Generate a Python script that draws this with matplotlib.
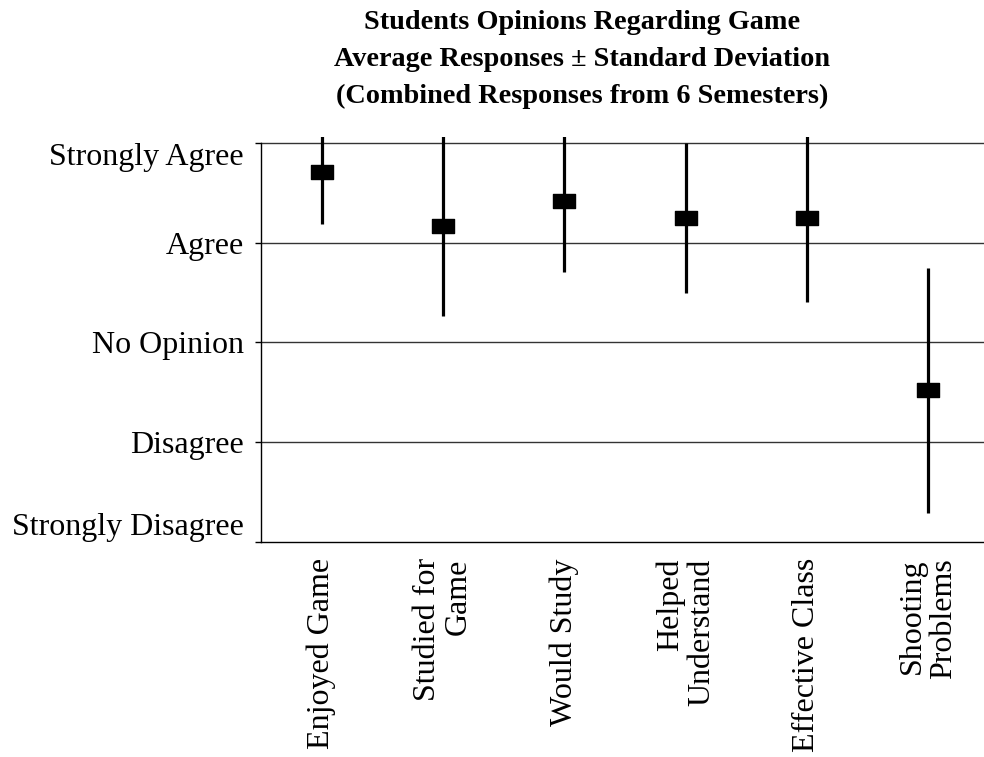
import matplotlib.pyplot as plt
from matplotlib.path import Path

questions = ["Enjoyed Game", "Studied for\nGame", "Would Study",
             "Helped\nUnderstand", "Effective Class", "Shooting\nProblems"]
means = [4.71, 4.17, 4.42, 4.25, 4.25, 2.52]
stdevs = [0.52, 0.90, 0.71, 0.75, 0.84, 1.23]
levels = [1, 2, 3, 4, 5]
level_names = ["Strongly Disagree", "Disagree", "No Opinion", "Agree", "Strongly Agree"]

plt.rcParams['font.family'] = ['Liberation Serif', 'DejaVu Serif']

fig = plt.figure(figsize=(9.84, 7.57), dpi=100)
ax = fig.add_axes([261 / 984, 1 - 541.5 / 757, 1 - 261 / 984, (541.5 - 136.7) / 757])

# wide, flat box marker like the original
box = Path([(-1.5, -1), (1.5, -1), (1.5, 1), (-1.5, 1), (-1.5, -1)],
           [Path.MOVETO, Path.LINETO, Path.LINETO, Path.LINETO, Path.CLOSEPOLY])

xs = list(range(len(questions)))
ax.errorbar(xs, means, yerr=stdevs, fmt='none', ecolor='black', elinewidth=2.3,
            capsize=0, zorder=3)
ax.plot(xs, means, linestyle='none', marker=box, markersize=16, color='black', zorder=4)

ax.set_xlim(-0.5, 5.46)
ax.set_ylim(1, 5.066)
ax.set_yticks(levels)
ax.set_yticklabels(level_names, fontsize=23)
ax.set_xticks(xs)
ax.set_xticklabels(questions, rotation=90, fontsize=23, multialignment='right',
                   linespacing=1.1)
ax.tick_params(axis='x', length=0, pad=12)
ax.tick_params(axis='y', direction='out', length=4.5, width=1, pad=8)

# end labels pushed inward, as the original does
ylabels = ax.get_yticklabels()
ylabels[0].set_va('bottom')
ylabels[-1].set_va('top')

for lv in levels[1:]:
    ax.axhline(lv, color='#333333', lw=1, zorder=1)

for s in ['top', 'right']:
    ax.spines[s].set_visible(False)
ax.spines['left'].set_bounds(1, 5)
ax.spines['left'].set_linewidth(1)
ax.spines['bottom'].set_linewidth(1)

fig.text(582 / 984, 1 - 10 / 757,
         "Students Opinions Regarding Game\nAverage Responses \u00b1 Standard Deviation\n(Combined Responses from 6 Semesters)",
         ha='center', va='top', fontsize=20.3, fontweight='bold', linespacing=1.63)

fig.savefig('out.png', dpi=100)
